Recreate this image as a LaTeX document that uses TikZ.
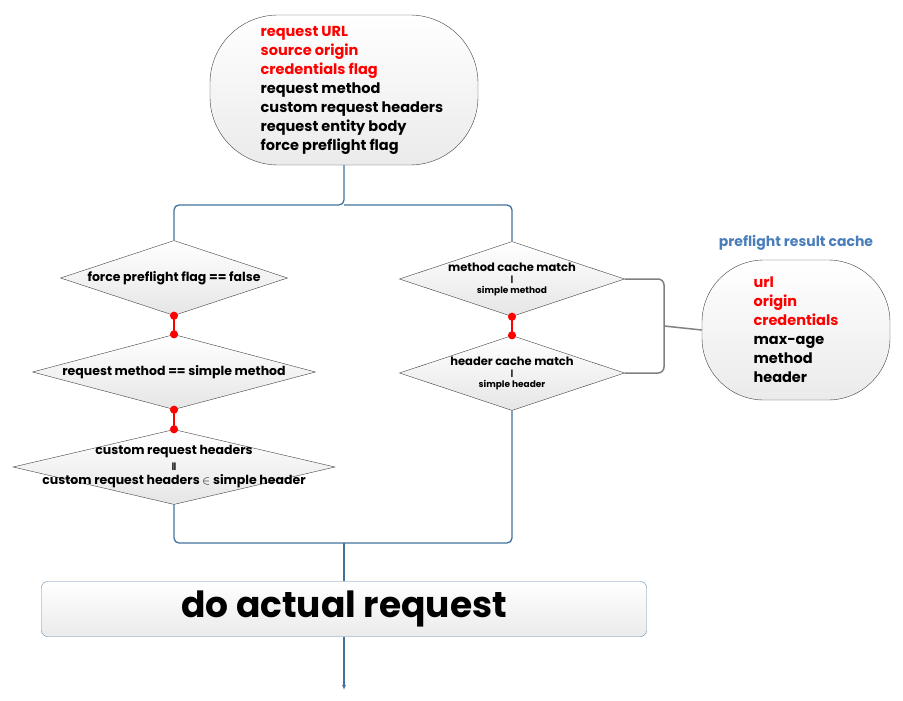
\documentclass[tikz,border=0pt]{standalone}
\usepackage{fontspec}
\setmainfont{Poppins}
\usetikzlibrary{arrows.meta, shapes.geometric, positioning}
\definecolor{flowblue}{RGB}{65,113,156}
\definecolor{titleblue}{RGB}{74,126,187}
\definecolor{edgegray}{RGB}{64,64,64}
\tikzstyle{stadium}=[rectangle, rounded corners=68pt, draw=edgegray, top color=white, bottom color=black!8, inner sep=0pt]
\tikzstyle{decision}=[diamond, draw=edgegray, top color=white, bottom color=black!10, inner sep=0pt, minimum height=75pt]
\tikzstyle{action}=[rectangle, rounded corners=6pt, draw=flowblue!85, top color=white, bottom color=black!8, minimum width=605pt, minimum height=55pt]
\tikzstyle{flow}=[draw=flowblue, line width=1.3pt, rounded corners=5pt]
\tikzstyle{chain}=[draw=red, line width=1.8pt, shorten <=-4pt, shorten >=-4pt, {Circle[length=8pt]}-{Circle[length=8pt]}]
\tikzstyle{cachelink}=[draw=black!50, line width=1.5pt, rounded corners=6pt]

\begin{document}
\begin{tikzpicture}[x=1pt, y=-1pt, font=\bfseries]
  \useasboundingbox (0,0) rectangle (903,701);
  % input parameters
  \node[stadium, minimum width=268pt, minimum height=150pt, align=left,
        font=\bfseries\fontsize{14.5}{19}\selectfont] (input) at (344,90)
    {\hspace*{16pt}\textcolor{red}{request URL}\\ \hspace*{16pt}\textcolor{red}{source origin}\\ \hspace*{16pt}\textcolor{red}{credentials flag}\\
     \hspace*{16pt}request method\\ \hspace*{16pt}custom request headers\\ \hspace*{16pt}request entity body\\ \hspace*{16pt}force preflight flag};
  % simple request checks
  \node[decision, minimum width=227pt, label={[font=\bfseries\fontsize{12.5}{13}\selectfont]center:force preflight flag == false}] (dl1) at (174,278) {};
  \node[decision, minimum width=283pt, label={[font=\bfseries\fontsize{12.5}{13}\selectfont]center:request method == simple method}] (dl2) at (174,372) {};
  \node[decision, minimum width=322pt, label={[font=\bfseries\fontsize{12.5}{17}\selectfont, align=center]center:custom request headers\\[-2pt] {\fontsize{8}{8}\selectfont\kern0pt|\kern-0.5pt|}\\[-2pt] custom request headers $\in$ simple header}] (dl3) at (174,467) {};
  % cache checks
  \node[decision, minimum width=225pt, label={[font=\bfseries\fontsize{11.5}{13}\selectfont, align=center]center:method cache match\\[-2pt] {\fontsize{8}{8}\selectfont|}\\[-2pt] {\fontsize{9}{11}\selectfont simple method}}] (dr1) at (512,279) {};
  \node[decision, minimum width=225pt, label={[font=\bfseries\fontsize{11.5}{13}\selectfont, align=center]center:header cache match\\[-2pt] {\fontsize{8}{8}\selectfont|}\\[-2pt] {\fontsize{9}{11}\selectfont simple header}}] (dr2) at (512,373) {};
  % cache entry
  \node[stadium, rounded corners=62pt, minimum width=188pt, minimum height=140pt, align=left,
        font=\bfseries\fontsize{14.5}{19}\selectfont] (cache) at (796,330)
    {\textcolor{red}{url}\\ \textcolor{red}{origin}\\ \textcolor{red}{credentials}\\ max-age\\ method\\ header};
  \node[text=titleblue, font=\bfseries\fontsize{14}{16}\selectfont, above=6pt of cache] (cachetitle) {preflight result cache};
  % result
  \node[action, font=\bfseries\fontsize{36}{40}\selectfont] (act) at (344,609) {do actual request};

  \coordinate (fork) at (344,205);
  \coordinate (join) at (344,543);
  \coordinate (bus) at (664,326);
  \coordinate (exit) at (344,690);

  \draw[flow] (input.south) -- (fork) -| (dl1.north);
  \draw[flow] (fork) -| (dr1.north);
  \draw[chain] (dl1.south) -- (dl2.north);
  \draw[chain] (dl2.south) -- (dl3.north);
  \draw[chain] (dr1.south) -- (dr2.north);
  \draw[flow] (dl3.south) |- (join);
  \draw[flow] (dr2.south) |- (join);
  \draw[flow] (join) -- (act.north);
  \draw[flow, -{Latex[length=5pt, width=4pt]}] (act.south) -- (exit);
  \draw[cachelink] (dr1.east) -| (bus) |- (dr2.east);
  \draw[cachelink] (cache.west) -- (bus);
\end{tikzpicture}
\end{document}
